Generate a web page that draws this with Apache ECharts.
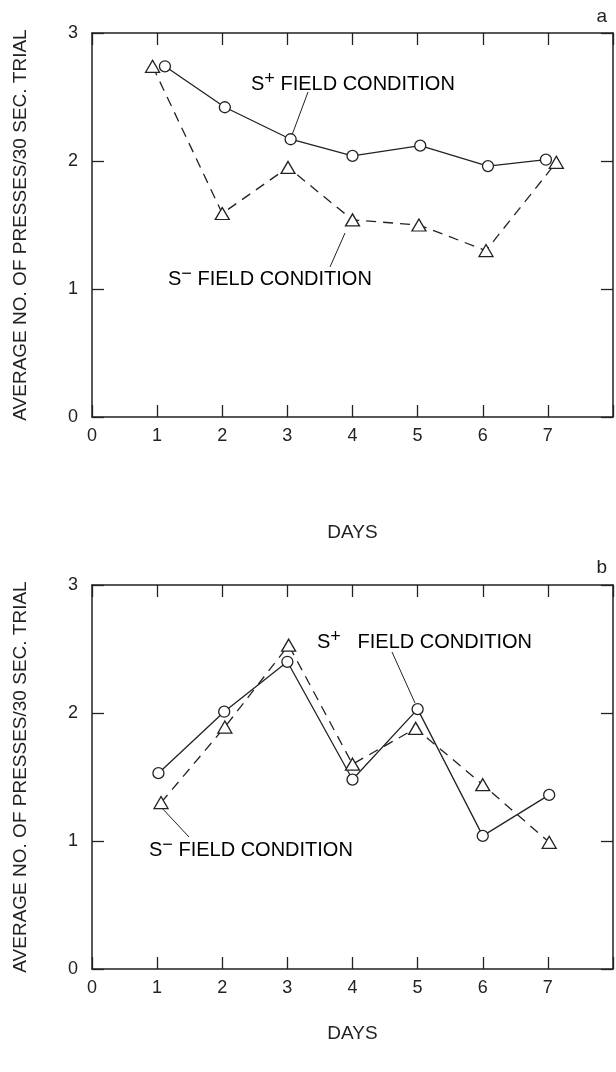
<!DOCTYPE html>
<html>
<head>
<meta charset="utf-8">
<script src="https://cdn.jsdelivr.net/npm/echarts@6/dist/echarts.min.js"></script>
<style>
html,body{margin:0;padding:0;background:#fff;}
#c{width:616px;height:1072px;}
</style>
</head>
<body>
<div id="c"></div>
<script>
// ---- data ----
const xTicks = [0, 1, 2, 3, 4, 5, 6, 7];
const yTicks = [0, 1, 2, 3];
// panel a
const aPlusDays  = [1.12, 2.04, 3.05, 4.00, 5.04, 6.08, 6.97];
const aPlusVals  = [2.74, 2.42, 2.17, 2.04, 2.12, 1.96, 2.01];
const aMinusDays = [0.93, 2.00, 3.01, 4.00, 5.02, 6.05, 7.13];
const aMinusVals = [2.74, 1.59, 1.95, 1.54, 1.50, 1.30, 1.99];
// panel b
const bPlusDays  = [1.02, 2.03, 3.00, 4.00, 5.00, 6.00, 7.02];
const bPlusVals  = [1.53, 2.01, 2.40, 1.48, 2.03, 1.04, 1.36];
const bMinusDays = [1.06, 2.04, 3.02, 4.00, 4.97, 6.00, 7.02];
const bMinusVals = [1.30, 1.89, 2.53, 1.60, 1.88, 1.44, 0.99];

const yName = 'AVERAGE NO. OF PRESSES/30 SEC. TRIAL';
const xName = 'DAYS';

const FONT = '"Liberation Sans", Arial, sans-serif';
const INK = '#222';

function pairs(xs, ys){ return xs.map((x,i)=>[x, ys[i]]); }

function xAx(grid, pos, nameGap){
  const base = {
    type:'value', gridIndex:grid, min:0, max:8, interval:1, position:pos,
    axisLine:{show:true, onZero:false, lineStyle:{color:INK, width:1.5}},
    axisTick:{show:true, inside:true, length:12, lineStyle:{color:INK, width:1.3}},
    splitLine:{show:false}
  };
  if (pos === 'bottom') {
    base.axisLabel = {show:true, color:INK, fontSize:18, fontFamily:FONT, margin:10,
      formatter: v => xTicks.indexOf(v) >= 0 ? String(v) : ''};
    base.name = xName; base.nameLocation='middle'; base.nameGap = nameGap;
    base.nameTextStyle = {color:INK, fontSize:19, fontFamily:FONT};
  } else {
    base.axisLabel = {show:false};
  }
  return base;
}
function yAx(grid, pos){
  const base = {
    type:'value', gridIndex:grid, min:0, max:3, interval:1, position:pos,
    axisLine:{show:true, onZero:false, lineStyle:{color:INK, width:1.5}},
    axisTick:{show:true, inside:true, length:12, lineStyle:{color:INK, width:1.3}},
    splitLine:{show:false}
  };
  if (pos === 'left') {
    base.axisLabel = {show:true, color:INK, fontSize:18, fontFamily:FONT, margin:14,
      formatter: v => yTicks.indexOf(v) >= 0 ? String(v) : ''};
    base.name = yName; base.nameLocation='middle'; base.nameGap = 62;
    base.nameTextStyle = {color:INK, fontSize:19, fontFamily:FONT};
  } else {
    base.axisLabel = {show:false};
  }
  return base;
}
function ser(xi, yi, data, symbol, size, dashed){
  return {
    type:'line', xAxisIndex:xi, yAxisIndex:yi, data:data,
    symbol:symbol, symbolSize:size, showSymbol:true,
    lineStyle:{color:INK, width:1.3, type: dashed ? [10,7] : 'solid'},
    itemStyle:{color:'#fff', borderColor:INK, borderWidth:1.3},
    z: 3, animation:false
  };
}

const rich = {
  n:{fontSize:20, fontFamily:FONT, color:INK, lineHeight:24, verticalAlign:'bottom'},
  p:{fontSize:18, fontFamily:FONT, color:INK, lineHeight:24, verticalAlign:'top', padding:[0,0,6,0]}
};
function label(x, y, sign, gap){
  return {type:'text', left:x, top:y-12, silent:true,
    style:{text:'{n|S}{p|' + sign + '}{n|' + gap + 'FIELD CONDITION}', rich:rich}};
}
function leader(x1,y1,x2,y2){
  return {type:'line', silent:true, shape:{x1:x1,y1:y1,x2:x2,y2:y2},
    style:{stroke:INK, lineWidth:1}};
}

const chart = echarts.init(document.getElementById('c'), null, {renderer:'canvas'});
chart.setOption({
  backgroundColor:'#fff',
  animation:false,
  grid:[
    {left:92, right:2, top:33, height:384},
    {left:92, right:2, top:585, height:384}
  ],
  xAxis:[xAx(0,'bottom',106), xAx(0,'top'), xAx(1,'bottom',55), xAx(1,'top')],
  yAxis:[yAx(0,'left'), yAx(0,'right'), yAx(1,'left'), yAx(1,'right')],
  series:[
    ser(0,0,pairs(aPlusDays,aPlusVals),'circle',11,false),
    ser(0,0,pairs(aMinusDays,aMinusVals),'triangle',[14,12],true),
    ser(2,2,pairs(bPlusDays,bPlusVals),'circle',11,false),
    ser(2,2,pairs(bMinusDays,bMinusVals),'triangle',[14,12],true)
  ],
  graphic:[
    {type:'text', right:9, top:7, silent:true, style:{text:'a', fontSize:19, fontFamily:FONT, fill:INK}},
    {type:'text', right:9, top:558, silent:true, style:{text:'b', fontSize:19, fontFamily:FONT, fill:INK}},
    label(251, 82, '+', ' '),
    leader(308, 92, 292, 135),
    label(168, 277, '\u2212', ' '),
    leader(345, 233, 330, 267),
    label(317, 640, '+', '   '),
    leader(392, 652, 415, 703),
    label(149, 848, '\u2212', ' '),
    leader(161, 807, 189, 837)
  ]
});
</script>
</body>
</html>
